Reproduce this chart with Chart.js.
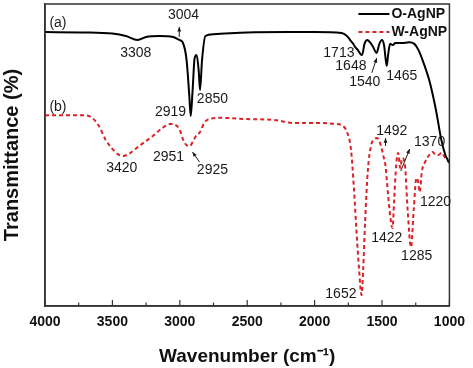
<!DOCTYPE html>
<html>
<head>
<meta charset="utf-8">
<script src="https://cdn.jsdelivr.net/npm/chart.js@4"></script>
<style>
  body { margin: 0; background: #fff; }
  canvas { display: block; }
</style>
</head>
<body>
<canvas id="ftir" width="473" height="368"></canvas>
<script>
// O-AgNP (a)
const wnA = [4000, 3700, 3500, 3400, 3313, 3250, 3150, 3050, 3004, 2980, 2950, 2930, 2919, 2905, 2890, 2875, 2860, 2850, 2835, 2810, 2750, 2500, 2200, 2000, 1800, 1760, 1730, 1713, 1700, 1680, 1660, 1648, 1630, 1610, 1590, 1570, 1540, 1520, 1500, 1485, 1465, 1455, 1440, 1420, 1400, 1350, 1300, 1260, 1230, 1200, 1150, 1100, 1060, 1030, 1000];
const tA = [90.7, 90.6, 90.2, 89.4, 88.1, 89.1, 89.4, 89.1, 88.1, 87.4, 81.5, 69.9, 62.9, 71.5, 82.1, 83.1, 78, 71.5, 81.5, 89.4, 90, 90.6, 90.7, 90.7, 90.4, 89.4, 87.7, 86.8, 85.8, 84.8, 83.4, 83.1, 86.8, 88.1, 87.4, 86.1, 83.8, 86.8, 88.1, 86.4, 79.5, 83.1, 86.8, 86.4, 87.1, 87.1, 87.3, 86.8, 84.8, 81.5, 74.8, 64.9, 55, 50, 47.4];

// W-AgNP (b)
const wnB = [4000, 3800, 3700, 3650, 3600, 3550, 3500, 3460, 3420, 3380, 3330, 3270, 3200, 3130, 3070, 3030, 3000, 2975, 2951, 2935, 2925, 2905, 2880, 2850, 2820, 2780, 2700, 2500, 2300, 2150, 2000, 1850, 1790, 1760, 1730, 1710, 1690, 1670, 1652, 1640, 1625, 1605, 1580, 1555, 1535, 1515, 1500, 1492, 1475, 1455, 1440, 1422, 1410, 1395, 1380, 1365, 1350, 1330, 1310, 1285, 1265, 1245, 1232, 1220, 1205, 1180, 1150, 1125, 1100, 1080, 1060, 1030, 1000];
const tB = [63.2, 63.2, 63.1, 62.3, 59.6, 55, 52, 50.3, 49.7, 50.3, 52, 54, 56.3, 58.9, 60.3, 59.9, 58.3, 55, 53.3, 53, 53, 54.3, 56.3, 57.6, 60.6, 61.9, 62.3, 61.9, 61.6, 60.6, 60.6, 60.3, 59.6, 57.6, 51.7, 40, 25.2, 11.9, 3.6, 11.9, 28.5, 45, 53.3, 55.3, 55.6, 54, 51.7, 50, 46.7, 36.8, 30.1, 25.8, 35.1, 46.7, 50.7, 45.7, 49, 46.7, 31.8, 19.5, 31.8, 42.4, 41.1, 37.7, 44.4, 47.7, 50, 51, 50, 50, 50.7, 49, 47.4];

const xTicks = [4000, 3500, 3000, 2500, 2000, 1500, 1000];

// peak labels: text, wavenumber, transmittance
const peakLabels = [
  ['(a)', 3904, 93.7], ['(b)', 3904, 65.9],
  ['3004', 2973, 96.4], ['3308', 3327, 83.8], ['2919', 3069, 64.2], ['2850', 2758, 68.5],
  ['3420', 3431, 45.7], ['2951', 3084, 49.3], ['2925', 2758, 45],
  ['1713', 1820, 83.8], ['1648', 1731, 79.5], ['1540', 1628, 74.2], ['1465', 1354, 76.2],
  ['1492', 1428, 57.9], ['1370', 1147, 54.3], ['1220', 1103, 34.4],
  ['1422', 1465, 22.5], ['1285', 1243, 16.6], ['1652', 1805, 4]
];
// arrows: [wn from, t from, wn to, t to]
const arrows = [
  [3004, 89.1, 3004, 92.4],
  [2854, 47.7, 2906, 51],
  [1576, 77.2, 1539, 82.1],
  [1474, 53, 1474, 55.6],
  [1361, 44.7, 1295, 52]
];

const extras = {
  id: 'extras',
  afterDraw(chart) {
    const ctx = chart.ctx;
    const a = chart.chartArea;
    const xs = chart.scales.x, ys = chart.scales.y;
    ctx.save();
    // frame
    ctx.strokeStyle = '#333';
    ctx.lineWidth = 1.5;
    ctx.strokeRect(a.left, a.top, a.right - a.left, a.bottom - a.top);
    // inward ticks
    ctx.lineWidth = 1.2;
    for (let v = 1000; v <= 4000; v += 250) {
      const px = xs.getPixelForValue(v);
      const len = v % 500 === 0 ? 6 : 3.5;
      ctx.beginPath();
      ctx.moveTo(px, a.bottom);
      ctx.lineTo(px, a.bottom - len);
      ctx.stroke();
    }
    // labels
    ctx.fillStyle = '#1a1a1a';
    ctx.font = '14px "Liberation Sans", Arial, sans-serif';
    ctx.textAlign = 'center';
    ctx.textBaseline = 'middle';
    peakLabels.forEach(([txt, wn, t]) => {
      ctx.fillText(txt, xs.getPixelForValue(wn), ys.getPixelForValue(t));
    });
    // arrows
    ctx.strokeStyle = '#1a1a1a';
    ctx.lineWidth = 1;
    arrows.forEach(([w1, t1, w2, t2]) => {
      const x1 = xs.getPixelForValue(w1), y1 = ys.getPixelForValue(t1);
      const x2 = xs.getPixelForValue(w2), y2 = ys.getPixelForValue(t2);
      const ang = Math.atan2(y2 - y1, x2 - x1);
      ctx.beginPath();
      ctx.moveTo(x1, y1);
      ctx.lineTo(x2, y2);
      ctx.stroke();
      ctx.beginPath();
      ctx.moveTo(x2, y2);
      ctx.lineTo(x2 - 5 * Math.cos(ang - 0.4), y2 - 5 * Math.sin(ang - 0.4));
      ctx.lineTo(x2 - 5 * Math.cos(ang + 0.4), y2 - 5 * Math.sin(ang + 0.4));
      ctx.closePath();
      ctx.fill();
    });
    // legend
    ctx.font = 'bold 14px "Liberation Sans", Arial, sans-serif';
    ctx.textAlign = 'left';
    chart.data.datasets.forEach((ds, i) => {
      const ly = a.top + 10 + i * 18;
      ctx.strokeStyle = ds.borderColor;
      ctx.lineWidth = ds.borderWidth;
      ctx.setLineDash(ds.borderDash || []);
      ctx.beginPath();
      ctx.moveTo(a.right - 91, ly);
      ctx.lineTo(a.right - 60, ly);
      ctx.stroke();
      ctx.setLineDash([]);
      ctx.fillStyle = '#111';
      ctx.fillText(ds.label, a.right - 58, ly);
    });
    ctx.restore();
  }
};

new Chart(document.getElementById('ftir'), {
  type: 'line',
  data: {
    datasets: [
      {
        label: 'O-AgNP',
        data: wnA.map((w, i) => ({ x: w, y: tA[i] })),
        borderColor: '#000',
        borderWidth: 2,
        pointRadius: 0,
        cubicInterpolationMode: 'monotone'
      },
      {
        label: 'W-AgNP',
        data: wnB.map((w, i) => ({ x: w, y: tB[i] })),
        borderColor: '#dc2127',
        borderWidth: 2,
        borderDash: [4, 3],
        pointRadius: 0,
        cubicInterpolationMode: 'monotone'
      }
    ]
  },
  options: {
    responsive: false,
    animation: false,
    devicePixelRatio: 1,
    layout: { padding: { top: 4, right: 22, left: 0, bottom: 0 } },
    plugins: { legend: { display: false }, tooltip: { enabled: false } },
    scales: {
      x: {
        type: 'linear',
        reverse: true,
        min: 1000,
        max: 4000,
        afterBuildTicks: s => { s.ticks = xTicks.map(v => ({ value: v })); },
        ticks: {
          padding: 8,
          color: '#111',
          callback: v => String(v),
          font: { family: '"Liberation Sans", Arial, sans-serif', size: 14, weight: 'bold' },
          maxRotation: 0
        },
        grid: { drawOnChartArea: false, drawTicks: false },
        border: { color: '#333', width: 1.5 },
        title: {
          display: true,
          text: 'Wavenumber (cm⁻¹)',
          color: '#111',
          padding: 0,
          font: { family: '"Liberation Sans", Arial, sans-serif', size: 19, weight: 'bold' }
        },
        afterFit: s => { s.height = 62; }
      },
      y: {
        min: 0,
        max: 100,
        ticks: { display: false },
        grid: { drawOnChartArea: false, drawTicks: false },
        border: { color: '#333', width: 1.5 },
        title: {
          display: true,
          text: 'Transmittance (%)',
          color: '#111',
          padding: 0,
          font: { family: '"Liberation Sans", Arial, sans-serif', size: 20, weight: 'bold' }
        },
        afterFit: s => { s.width = 45; }
      }
    }
  },
  plugins: [extras]
});
</script>
</body>
</html>
